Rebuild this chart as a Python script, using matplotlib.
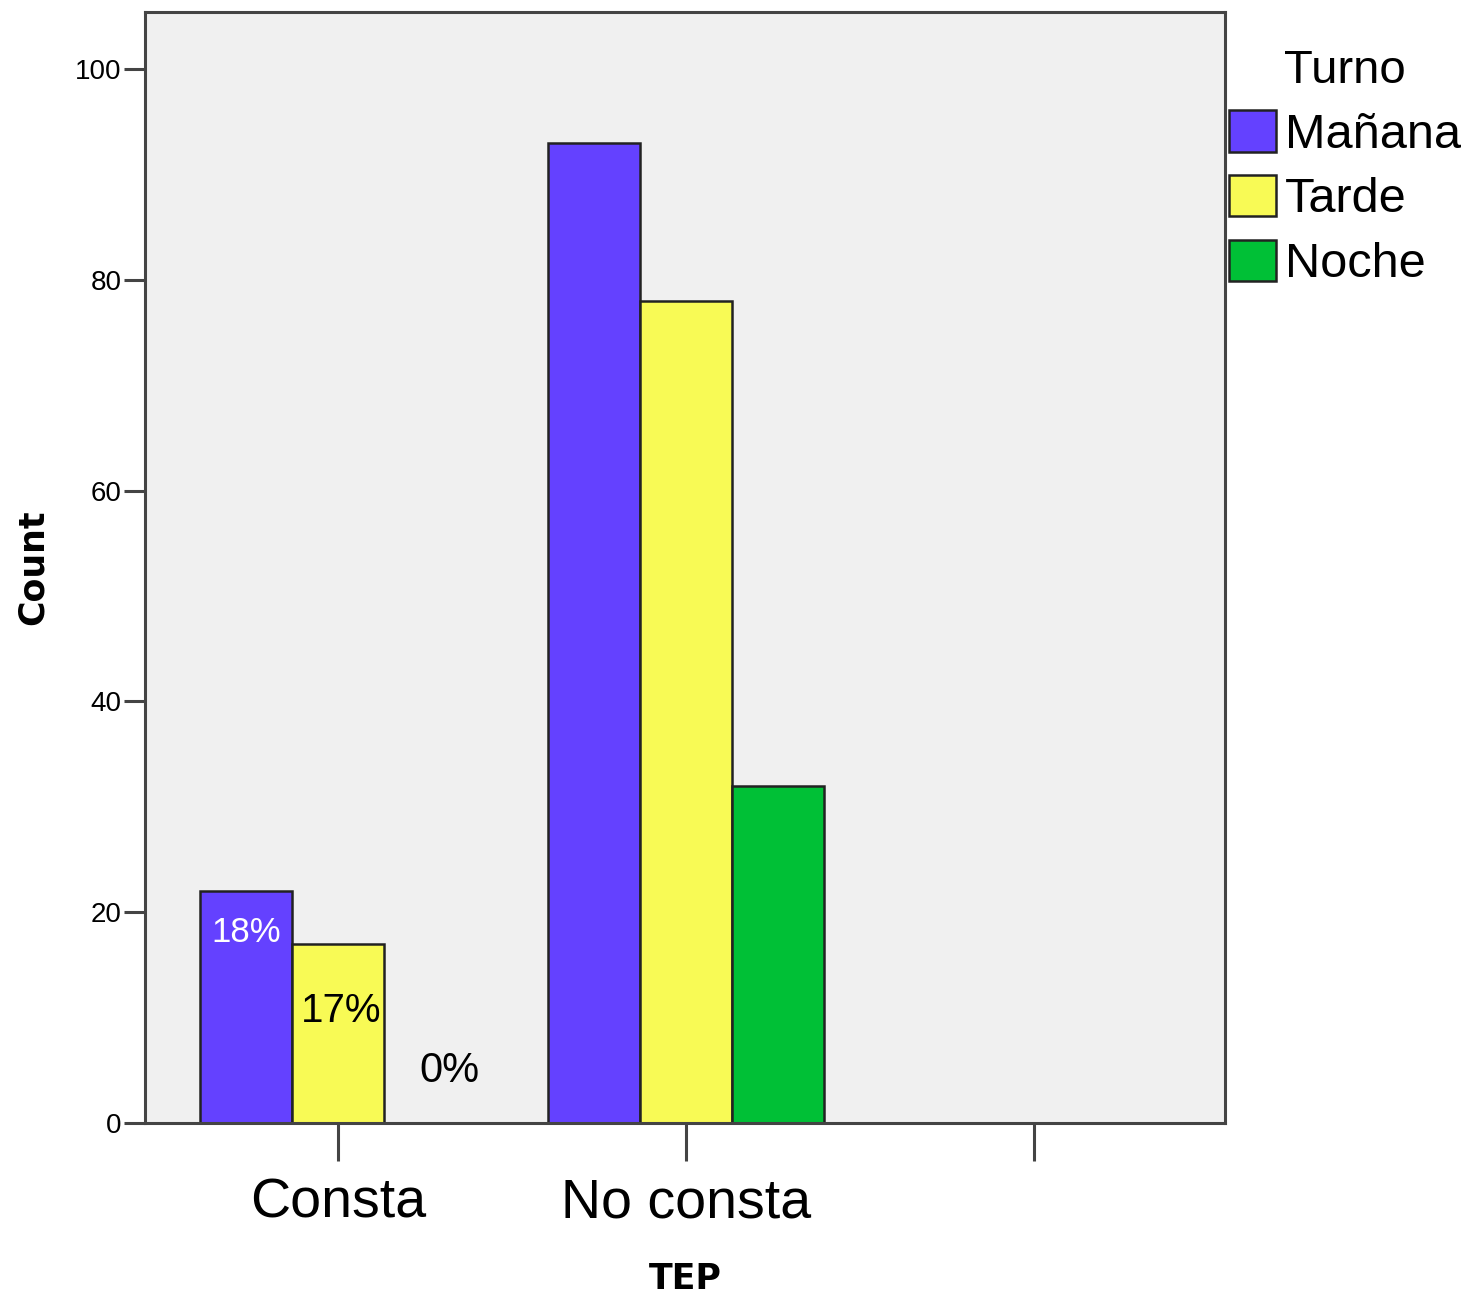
import numpy as np
import matplotlib
matplotlib.use('Agg')
import matplotlib.pyplot as plt

# data
categories = ['Consta', 'No consta', '']
turnos = ['Mañana', 'Tarde', 'Noche']
manana = [22, 93, 0]
tarde = [17, 78, 0]
noche = [0, 32, 0]
colors = ['#6441FF', '#F8FA55', '#00C036']

pct_labels = ['18%', '17%', '0%']
pct_colors = ['white', 'black', 'black']
pct_sizes = [25, 29, 30]
pct_y = [18.1, 10.6, 4.9]
pct_dx = [0.0, 0.01, 0.055]

plt.rcParams['font.family'] = ['Liberation Sans', 'DejaVu Sans']

fig = plt.figure(figsize=(14.67, 12.96), dpi=100)
ax = fig.add_axes([0.0988, 0.1335, 0.7362, 0.8572])
ax.set_facecolor('#F0F0F0')

x = np.arange(len(categories))
w = 0.264
series = [manana, tarde, noche]
for i, (vals, col, name) in enumerate(zip(series, colors, turnos)):
    ax.bar(x + (i - 1) * w, vals, width=w, color=col, edgecolor='#222222',
           linewidth=1.8, label=name, zorder=2)

# percentage labels on the first group
for i in range(3):
    ax.text(x[0] + (i - 1) * w + pct_dx[i], pct_y[i], pct_labels[i],
            color=pct_colors[i], ha='center', va='center',
            fontsize=pct_sizes[i], zorder=3)

ax.set_xlim(-0.555, 2.549)
ax.set_ylim(0, 105.4)
ax.set_yticks([0, 20, 40, 60, 80, 100])
ax.set_xticks(x)
ax.set_xticklabels(categories, fontsize=40)
ax.tick_params(axis='x', length=27, width=2.2, color='#444444', pad=12)
ax.tick_params(axis='y', length=15, width=2.2, color='#444444', pad=2, labelsize=20)

for s in ax.spines.values():
    s.set_linewidth(2.2)
    s.set_color('#444444')

ax.set_ylabel('Count', fontsize=25, fontweight='bold', family='DejaVu Sans', labelpad=18)
ax.set_xlabel('TEP', fontsize=25, fontweight='bold', family='DejaVu Sans', labelpad=24)

leg = ax.legend(title='Turno', loc='upper left', bbox_to_anchor=(1.004, 0.967),
                frameon=False, fontsize=35, title_fontsize=34, handlelength=0.97,
                handleheight=0.93, handletextpad=0.17, labelspacing=0.36,
                borderaxespad=0, borderpad=0)
for h in leg.legend_handles:
    h.set_edgecolor('#222222')
    h.set_linewidth(1.8)

fig.savefig('out.png', dpi=100)
